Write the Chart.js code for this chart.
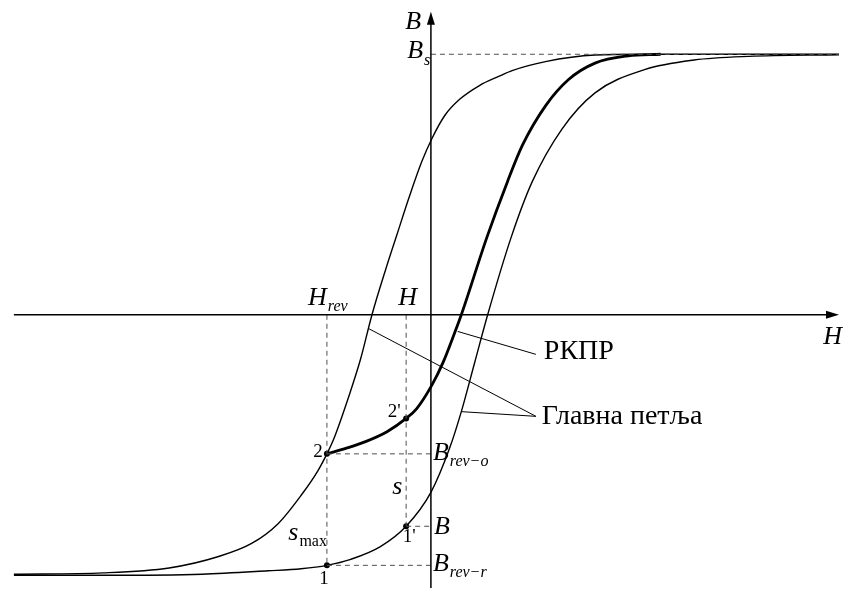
<!DOCTYPE html>
<html>
<head>
<meta charset="utf-8">
<script src="https://cdn.jsdelivr.net/npm/chart.js@4/dist/chart.umd.min.js"></script>
<style>
html,body{margin:0;padding:0;background:#fff;}
#wrap{width:843px;height:592px;}
</style>
</head>
<body>
<div id="wrap"><canvas id="c" width="843" height="592"></canvas></div>
<script>
// ---- data (H, B in relative units; Bs = 1) ----
// main loop, descending branch (left curve)
const H_LEFT = [-4.21,-3.31,-2.643,-2.143,-1.81,-1.543,-1.31,-1.143,-1.05,-0.977,-0.82,-0.71,-0.595,-0.46,-0.34,-0.22,-0.093,0.007,0.14,0.29,0.49,0.69,0.82,1.157,1.657,2.14,4.12];
const B_LEFT = [-0.996,-0.991,-0.972,-0.928,-0.878,-0.802,-0.693,-0.600,-0.534,-0.473,-0.303,-0.170,0,0.170,0.311,0.451,0.587,0.674,0.765,0.827,0.880,0.916,0.9375,0.972,0.997,1.0,1.0];
// main loop, ascending branch (right curve)
const H_RIGHT = [-4.21,-3.31,-2.31,-1.643,-1.31,-1.05,-0.81,-0.51,-0.25,0.0,0.19,0.307,0.44,0.573,0.81,1.023,1.323,1.657,2.157,2.657,3.21,4.12];
const B_RIGHT = [-1.0,-1.0,-0.996,-0.983,-0.975,-0.962,-0.939,-0.890,-0.812,-0.682,-0.511,-0.372,-0.186,0,0.297,0.511,0.713,0.852,0.941,0.978,0.992,0.998];
// reversal curve РКПР (bold)
const H_REV = [-1.05,-0.86,-0.66,-0.443,-0.25,-0.143,0.007,0.123,0.24,0.307,0.565,0.773,0.923,1.157,1.39,1.657,1.99,2.32];
const B_REV = [-0.534,-0.513,-0.487,-0.449,-0.398,-0.360,-0.272,-0.183,-0.069,0,0.297,0.511,0.650,0.802,0.903,0.966,0.994,1.0];
// characteristic values
const H_REVERSAL = -1.05;   // Hrev
const H_CURRENT = -0.25;    // H
const B_SAT = 1.0;          // Bs
const B_REV_O = -0.534;     // Brev-o (point 2)
const B_2P = -0.398;        // point 2'
const B_1P = -0.812;        // B (point 1')
const B_REV_R = -0.962;     // Brev-r (point 1)
const H_MIN = -4.21, H_MAX = 4.12, B_MIN = -1.05, B_MAX = 1.163;

const X_MIN = -4.31, X_MAX = 4.12, Y_MIN = -1.049, Y_MAX = 1.193;

function zip(hs, bs){ return hs.map((h,i)=>({x:h,y:bs[i]})); }
function seg(h1,b1,h2,b2){ return [{x:h1,y:b1},{x:h2,y:b2}]; }

const curve = (data,w)=>({data,showLine:true,borderColor:'#000',borderWidth:w,pointRadius:0,fill:false,cubicInterpolationMode:'monotone'});
const straight = (data,w,color)=>({data,showLine:true,borderColor:color||'#000',borderWidth:w,pointRadius:0,fill:false,tension:0});
const dashed = (data)=>({data,showLine:true,borderColor:'#505050',borderWidth:1,borderDash:[5,4],pointRadius:0,fill:false,tension:0});

const datasets = [
  // axes
  straight(seg(H_MIN,0,H_MAX-0.08,0),1.5),
  straight(seg(0,B_MIN,0,B_MAX-0.03),1.5),
  // dashed helpers
  dashed(seg(0,B_SAT,H_MAX,B_SAT)),
  dashed(seg(H_REVERSAL,0,H_REVERSAL,B_REV_R)),
  dashed(seg(H_CURRENT,0,H_CURRENT,B_1P)),
  dashed(seg(H_REVERSAL,B_REV_O,0,B_REV_O)),
  dashed(seg(H_CURRENT,B_1P,0,B_1P)),
  dashed(seg(H_REVERSAL,B_REV_R,0,B_REV_R)),
  // curves
  curve(zip(H_LEFT,B_LEFT),1.4),
  curve(zip(H_RIGHT,B_RIGHT),1.4),
  curve(zip(H_REV,B_REV),2.8),
  // leader lines
  straight(seg(0.27,-0.064,1.06,-0.152),1),
  straight(seg(-0.63,-0.053,1.06,-0.390),1),
  straight(seg(0.307,-0.372,1.06,-0.390),1),
  // points 1, 1', 2, 2'
  {data:[{x:H_REVERSAL,y:B_REV_O},{x:H_CURRENT,y:B_2P},{x:H_CURRENT,y:B_1P},{x:H_REVERSAL,y:B_REV_R}],showLine:false,pointRadius:3,pointBackgroundColor:'#000',pointBorderColor:'#000',pointBorderWidth:0}
];

const SERIF = '"Liberation Serif", "DejaVu Serif", serif';
const labels = [
  {t:'B', h:-0.26, b:1.125, it:true},
  {t:'B', sub:'s', h:-0.24, b:1.011, it:true},
  {t:'H', sub:'rev', h:-1.24, b:0.064, it:true},
  {t:'H', h:-0.33, b:0.064, it:true},
  {t:'H', h:3.96, b:-0.087, it:true},
  {t:'B', sub:'rev\u2212o', h:0.02, b:-0.530, it:true},
  {t:'B', h:0.03, b:-0.814, it:true},
  {t:'B', sub:'rev\u2212r', h:0.02, b:-0.958, it:true},
  {t:'s', sub:'max', subUp:true, h:-1.44, b:-0.837, it:true},
  {t:'s', h:-0.39, b:-0.663, it:true},
  {t:"2'", h:-0.37, b:-0.375, num:true},
  {t:'2', h:-1.14, b:-0.527, num:true},
  {t:"1'", h:-0.22, b:-0.852, num:true},
  {t:'1', h:-1.08, b:-1.015, num:true},
  {t:'РКПР', h:1.14, b:-0.140, txt:true},
  {t:'Главна петља', h:1.12, b:-0.390, txt:true}
];

const annot = {
  id:'annot',
  afterDatasetsDraw(chart){
    const ctx = chart.ctx, xs = chart.scales.x, ys = chart.scales.y;
    ctx.save();
    ctx.fillStyle = '#000';
    // arrow heads
    const ax = xs.getPixelForValue(H_MAX), ay = ys.getPixelForValue(0);
    ctx.beginPath(); ctx.moveTo(ax,ay); ctx.lineTo(ax-13,ay-4); ctx.lineTo(ax-13,ay+4); ctx.closePath(); ctx.fill();
    const bx = xs.getPixelForValue(0), by = ys.getPixelForValue(B_MAX);
    ctx.beginPath(); ctx.moveTo(bx,by); ctx.lineTo(bx-4,by+13); ctx.lineTo(bx+4,by+13); ctx.closePath(); ctx.fill();
    ctx.textBaseline = 'middle';
    for (const l of labels){
      const px = xs.getPixelForValue(l.h), py = ys.getPixelForValue(l.b);
      if (l.num){ ctx.font = '19px '+SERIF; ctx.textAlign='center'; }
      else if (l.txt){ ctx.font = '28px '+SERIF; ctx.textAlign='left'; }
      else { ctx.font = 'italic 26px '+SERIF; ctx.textAlign='left'; }
      ctx.fillText(l.t, px, py);
      if (l.sub){
        const w = ctx.measureText(l.t).width;
        ctx.font = (l.subUp?'':'italic ')+'16px '+SERIF;
        ctx.textAlign='left';
        ctx.fillText(l.sub, px+w+1, py+9);
      }
    }
    ctx.restore();
  }
};

new Chart(document.getElementById('c'), {
  type:'scatter',
  data:{datasets},
  options:{
    responsive:false, animation:false, devicePixelRatio:1,
    layout:{padding:0},
    plugins:{legend:{display:false}, tooltip:{enabled:false}},
    scales:{
      x:{type:'linear', min:X_MIN, max:X_MAX, display:false},
      y:{type:'linear', min:Y_MIN, max:Y_MAX, display:false}
    }
  },
  plugins:[annot]
});
</script>
</body>
</html>
